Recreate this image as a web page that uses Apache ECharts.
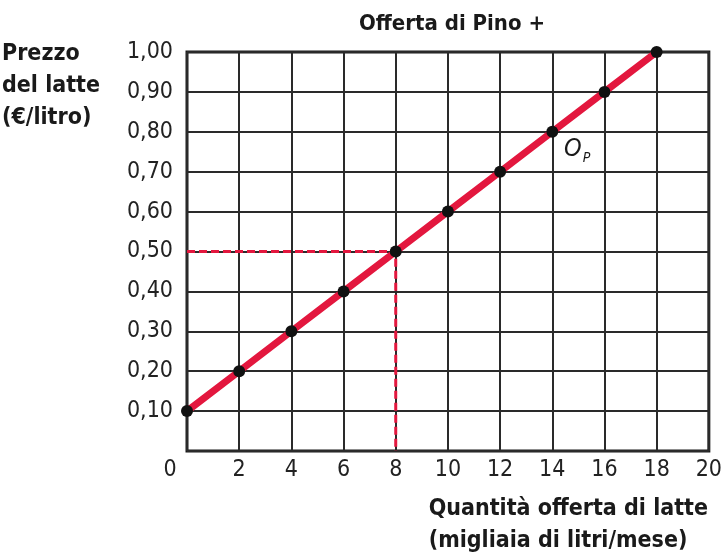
<!DOCTYPE html>
<html>
<head>
<meta charset="utf-8">
<script src="https://cdn.jsdelivr.net/npm/echarts@6/dist/echarts.min.js"></script>
<style>
  html, body { margin: 0; padding: 0; background: #fff; }
  #chart { width: 725px; height: 558px; }
</style>
</head>
<body>
<div id="chart"></div>
<script>
// supply of milk, Pino
const quantity = [0, 2, 4, 6, 8, 10, 12, 14, 16, 18]
const price = [0.10, 0.20, 0.30, 0.40, 0.50, 0.60, 0.70, 0.80, 0.90, 1.00]
const guideX = [0, 8, 8]
const guideY = [0.50, 0.50, 0]

const condensed = '"Liberation Sans Narrow", "DejaVu Sans Condensed", "Roboto Condensed", sans-serif'
const red = '#e3173e'

const chart = echarts.init(document.getElementById('chart'))

const fmt = v => v.toFixed(2).replace('.', ',')

chart.setOption({
    animation: false,
    title: {
        text: 'Offerta di Pino +',
        left: 447,
        textAlign: 'center',
        top: 8,
        textStyle: { fontFamily: condensed, fontSize: 22, fontWeight: 'bold', color: '#1a1a1a' }
    },
    grid: {
        left: 187,
        right: 16,
        top: 52,
        bottom: 107,
        show: true,
        borderWidth: 3,
        borderColor: '#1a1a1a'
    },
    xAxis: {
        type: 'value',
        min: 0,
        max: 20,
        interval: 2,
        axisLine: { show: false },
        axisTick: { show: false },
        splitLine: { lineStyle: { color: '#2a2a2a', width: 2 } },
        axisLabel: {
            margin: 8,
            fontFamily: condensed,
            fontSize: 23,
            color: '#222',
            formatter: v => v === 0 ? '{o|0}' : String(v),
            rich: { o: { fontFamily: condensed, fontSize: 23, color: '#222', padding: [0, 34, 0, 0] } }
        }
    },
    yAxis: {
        type: 'value',
        min: 0,
        max: 1,
        interval: 0.1,
        axisLine: { show: false },
        axisTick: { show: false },
        splitLine: { lineStyle: { color: '#2a2a2a', width: 2 } },
        axisLabel: {
            margin: 14,
            fontFamily: condensed,
            fontSize: 23,
            color: '#222',
            showMinLabel: false,
            formatter: v => fmt(v)
        }
    },
    graphic: [
        {
            type: 'text', right: 625, top: 38,
            style: {
                text: 'Prezzo\ndel latte\n(€/litro)', align: 'right', lineHeight: 32,
                font: 'bold 23px ' + condensed, fill: '#1a1a1a'
            }
        },
        {
            type: 'text', right: 17, top: 493,
            style: {
                text: 'Quantità offerta di latte\n(migliaia di litri/mese)', align: 'right', lineHeight: 32,
                font: 'bold 23px ' + condensed, fill: '#1a1a1a'
            }
        },
        {
            type: 'text', left: 564, top: 137,
            style: {
                text: '{a|O}{b|P}',
                rich: {
                    a: { font: 'italic 25px ' + condensed, fill: '#1a1a1a' },
                    b: { font: 'italic 14px ' + condensed, fill: '#1a1a1a', padding: [18, 0, 0, 1] }
                }
            }
        }
    ],
    series: [
        {
            type: 'line',
            data: guideX.map((x, i) => [x, guideY[i]]),
            symbol: 'none',
            lineStyle: { color: red, width: 3, type: [8, 4] },
            z: 3
        },
        {
            type: 'line',
            data: quantity.map((q, i) => [q, price[i]]),
            symbol: 'circle',
            symbolSize: 12,
            itemStyle: { color: '#111' },
            lineStyle: { color: red, width: 7 },
            z: 4
        }
    ]
})
</script>
</body>
</html>
